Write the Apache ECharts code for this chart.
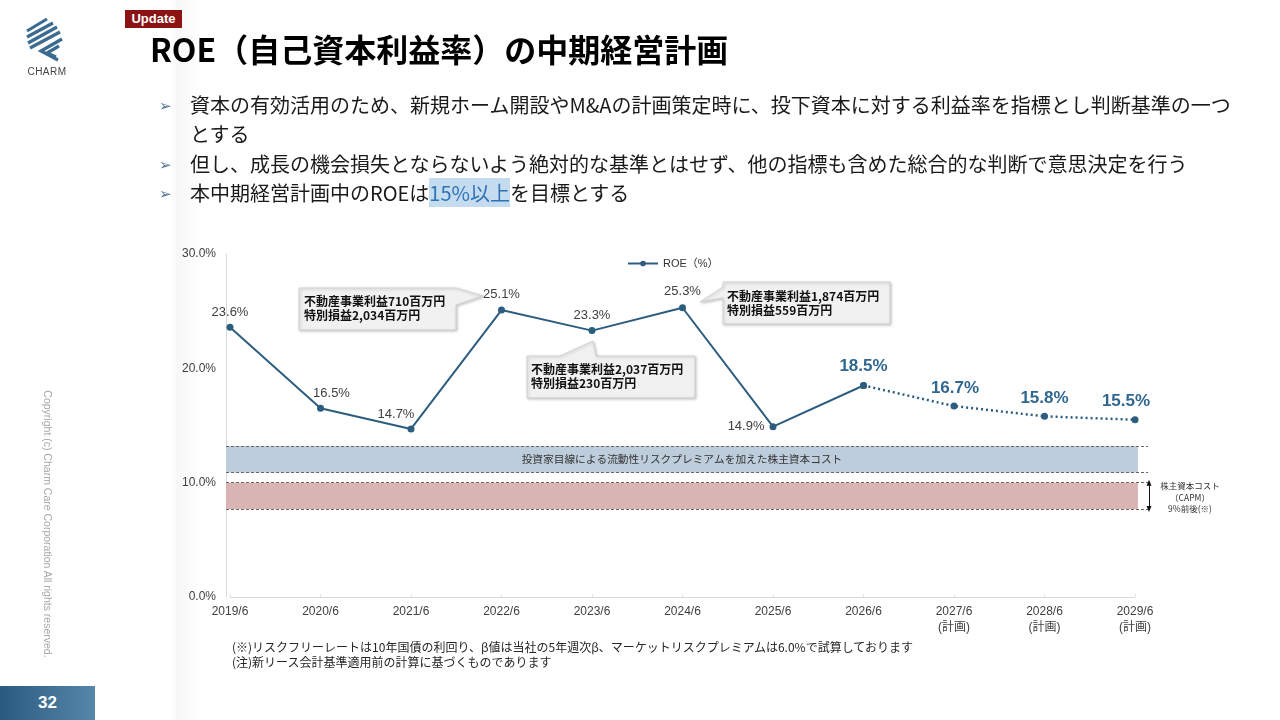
<!DOCTYPE html>
<html>
<head>
<meta charset="utf-8"/>
<title>ROE（自己資本利益率）の中期経営計画</title>
<script src="https://cdn.jsdelivr.net/npm/echarts@6/dist/echarts.min.js"></script>
<style>
    html, body { margin: 0; padding: 0; background: #fff; }
    body { width: 1280px; height: 720px; position: relative; overflow: hidden; font-family: "Noto Sans CJK JP", sans-serif; }
    #main { position: absolute; left: 0; top: 0; width: 1280px; height: 720px; }
    .shade { position: absolute; left: 170px; top: 0; width: 30px; height: 720px;
        background: linear-gradient(to right, rgba(0,0,0,0) 0%, rgba(0,0,0,0.03) 25%, rgba(0,0,0,0) 100%); }
    .badge { position: absolute; left: 125px; top: 10px; width: 57px; height: 18px; background: #8c1313;
        color: #fff; font: bold 13px "Liberation Sans", Arial, sans-serif; line-height: 18px; text-align: center; }
    .title { position: absolute; left: 150px; top: 29px; font-size: 32px; font-weight: bold; line-height: 38px; color: #000; white-space: nowrap; }
    .bl { position: absolute; left: 190px; font-size: 20px; line-height: 24px; color: #1a1a1a; white-space: nowrap; }
    .arw { position: absolute; left: 159px; font-size: 15px; line-height: 24px; color: #4f7396; font-family: "DejaVu Sans", sans-serif; }
    .hl { background: #c5dbef; color: #2e74b5; }
    .note { position: absolute; left: 232px; top: 639px; font-size: 12px; line-height: 15px; color: #262626; white-space: nowrap; }
    .copy { position: absolute; left: -92px; top: 517px; width: 280px; text-align: center; transform: rotate(90deg);
        font: 10.5px "Liberation Sans", Arial, sans-serif; color: #a6a6a6; white-space: nowrap; line-height: 14px; }
    .page { position: absolute; left: 0; top: 686px; width: 95px; height: 34px;
        background: linear-gradient(to right, #2a5a7f, #5686a9); color: #fff;
        font: bold 17px "Liberation Sans", Arial, sans-serif; line-height: 34px; text-align: center; }
    .capm { position: absolute; left: 1150px; top: 480px; width: 80px; text-align: center; font-size: 8.5px; line-height: 11.5px; color: #333; }
    .charm { position: absolute; left: 22px; top: 66px; width: 50px; text-align: center; font: 10px "Liberation Sans", Arial, sans-serif; color: #444; letter-spacing: 0.5px; }
</style>
</head>
<body>

<div class="shade"></div>
<div id="main"></div>

<!-- ヘッダー -->
<div class="charm">CHARM</div>
<div class="badge">Update</div>
<div class="title">ROE（自己資本利益率）の中期経営計画</div>

<!-- 箇条書き -->
<div class="arw" style="top:94px;">➢</div>
<div class="bl" style="top:93px;">資本の有効活用のため、新規ホーム開設やM&amp;Aの計画策定時に、投下資本に対する利益率を指標とし判断基準の一つ</div>
<div class="bl" style="top:122px;">とする</div>
<div class="arw" style="top:153px;">➢</div>
<div class="bl" style="top:152px;">但し、成長の機会損失とならないよう絶対的な基準とはせず、他の指標も含めた総合的な判断で意思決定を行う</div>
<div class="arw" style="top:182px;">➢</div>
<div class="bl" style="top:181px;">本中期経営計画中のROEは<span class="hl">15%以上</span>を目標とする</div>

<div class="capm">株主資本コスト<br>（CAPM）<br>9%前後(※)</div>

<div class="note">(※)リスクフリーレートは10年国債の利回り、β値は当社の5年週次β、マーケットリスクプレミアムは6.0%で試算しております<br>(注)新リース会計基準適用前の計算に基づくものであります</div>

<div class="copy">Copyright (c) Charm Care Corporation All rights reserved.</div>
<div class="page">32</div>

<script>
    // データ
    var categories = ['2019/6', '2020/6', '2021/6', '2022/6', '2023/6', '2024/6', '2025/6', '2026/6',
        '2027/6\n(計画)', '2028/6\n(計画)', '2029/6\n(計画)'];
    var roeActual = [23.6, 16.5, 14.7, 25.1, 23.3, 25.3, 14.9, 18.5, null, null, null];
    var roePlan = [null, null, null, null, null, null, null, 18.5, 16.7, 15.8, 15.5];
    var capmBand = [7.7, 10.0];        // 株主資本コスト(CAPM)
    var premiumBand = [10.9, 13.2];    // 流動性リスクプレミアム込み

    var lineColor = '#2c5d7f';
    var numFont = "'Liberation Sans', Arial, 'Noto Sans CJK JP', sans-serif";

    // ラベル位置の微調整
    var actualLabel = [
        {position: 'top'},
        {position: 'top', offset: [11, 0]},
        {position: 'top', offset: [-15, 0]},
        {position: 'top', offset: [0, -1]},
        {position: 'top'},
        {position: 'top', offset: [0, -1]},
        {position: 'left', offset: [0, 0]},
        {show: false}
    ];
    var planLabel = [null, null, null, null, null, null, null,
        {offset: [0, -1]}, {offset: [1, 0]}, {offset: [0, 0]}, {offset: [-9, 0]}];

    var actualData = roeActual.map(function (v, i) {
        if (v === null) return null;
        return {value: v, label: actualLabel[i]};
    });
    var planData = roePlan.map(function (v, i) {
        if (v === null) return null;
        return {value: v, label: planLabel[i]};
    });

    // 吹き出し
    function callout(points, text, tx, ty) {
        return [{
            type: 'polygon', z: 20,
            shape: {points: points},
            style: {fill: '#f1f1f1', stroke: '#d2d2d2', lineWidth: 1,
                shadowBlur: 3, shadowColor: 'rgba(0,0,0,0.22)', shadowOffsetX: 1, shadowOffsetY: 1}
        }, {
            type: 'text', z: 21, x: tx, y: ty,
            style: {text: text, font: "bold 12px 'Noto Sans CJK JP'", fill: '#111', lineHeight: 13.5}
        }];
    }

    var logoColor = '#3b6b90';
    var logo = [
        [[27, 31], [47, 19]],
        [[27, 37], [53, 23]],
        [[28, 43], [57, 27]],
        [[30, 48], [60, 32]],
        [[62, 39], [41, 51], [58, 60]],
        [[59, 46], [47, 53], [56, 57]]
    ].map(function (pts) {
        return {type: 'polyline', z: 5, shape: {points: pts},
            style: {stroke: logoColor, lineWidth: 3.2, fill: null, lineJoin: 'miter'}};
    });

    var graphics = logo
        .concat(callout([[299, 288], [456, 288], [483, 296], [456, 305], [456, 330], [299, 330]],
            '不動産事業利益710百万円\n特別損益2,034百万円', 304, 295))
        .concat(callout([[527, 356], [560, 356], [593, 341], [596, 356], [695, 356], [695, 398], [527, 398]],
            '不動産事業利益2,037百万円\n特別損益230百万円', 531, 363))
        .concat(callout([[723, 282], [890, 282], [890, 324], [723, 324], [723, 298], [700, 302], [723, 287]],
            '不動産事業利益1,874百万円\n特別損益559百万円', 727, 290));

    var myChart = echarts.init(document.getElementById('main'));
    var option = {
        animation: false,
        backgroundColor: 'transparent',
        legend: {
            data: ['ROE（%）'],
            top: 253, left: 622,
            itemWidth: 30, itemHeight: 7,
            textStyle: {fontSize: 11, color: '#333', fontFamily: numFont}
        },
        grid: [
            {left: 230, right: 145, top: 254, bottom: 123},
            {left: 226, right: 131, top: 254, bottom: 123}
        ],
        xAxis: [{
            type: 'category',
            gridIndex: 0,
            data: categories,
            boundaryGap: false,
            axisLine: {lineStyle: {color: '#d9d9d9'}},
            axisTick: {show: true, inside: true, length: 3, lineStyle: {color: '#e3e3e3'}},
            axisLabel: {fontSize: 12, color: '#404040', fontFamily: numFont, margin: 7, lineHeight: 16, interval: 0}
        }, {
            type: 'value', gridIndex: 1, min: 0, max: 100, show: false
        }],
        yAxis: [{
            type: 'value',
            gridIndex: 0,
            min: 0, max: 30, interval: 10,
            offset: 4,
            axisLine: {show: true, lineStyle: {color: '#d9d9d9'}},
            axisTick: {show: false},
            splitLine: {show: false},
            axisLabel: {fontSize: 12, color: '#404040', fontFamily: numFont, margin: 10,
                formatter: function (v) { return v.toFixed(1) + '%'; }}
        }, {
            type: 'value', gridIndex: 1, min: 0, max: 30, show: false
        }],
        series: [
            {
                name: 'ROE（%）',
                type: 'line',
                data: actualData,
                z: 5,
                color: lineColor,
                lineStyle: {color: lineColor, width: 2},
                symbol: 'circle', symbolSize: 7,
                itemStyle: {color: lineColor},
                label: {show: true, fontSize: 13, color: '#404040', fontFamily: numFont, distance: 5,
                    formatter: function (p) { return p.value.toFixed(1) + '%'; }}
            },
            {
                name: '計画',
                type: 'line',
                data: planData,
                z: 5,
                lineStyle: {color: lineColor, width: 2.5, type: [2, 3]},
                symbol: 'circle', symbolSize: 7,
                itemStyle: {color: lineColor},
                label: {show: true, position: 'top', fontSize: 17, fontWeight: 'bold', color: '#2f6790',
                    fontFamily: numFont, distance: 6,
                    formatter: function (p) { return p.value.toFixed(1) + '%'; }}
            },
            {
                name: '資本コスト',
                type: 'line',
                xAxisIndex: 1, yAxisIndex: 1,
                data: [],
                z: 1,
                markArea: {
                    silent: true,
                    data: [
                        [{coord: [0, premiumBand[1]], itemStyle: {color: '#bdcddb'},
                            label: {show: true, position: 'inside', color: '#333', fontSize: 10.7,
                                fontFamily: 'Noto Sans CJK JP'},
                            name: '投資家目線による流動性リスクプレミアムを加えた株主資本コスト'},
                            {coord: [98.8, premiumBand[0]]}],
                        [{coord: [0, capmBand[1]], itemStyle: {color: '#d8b4b4'}, label: {show: false}},
                            {coord: [98.8, capmBand[0]]}]
                    ]
                },
                markLine: {
                    silent: true,
                    symbol: ['none', 'none'],
                    label: {show: false},
                    lineStyle: {color: '#666', width: 1, type: [3, 2]},
                    data: [
                        [{coord: [0, premiumBand[1]]}, {coord: [99.9, premiumBand[1]]}],
                        [{coord: [0, premiumBand[0]]}, {coord: [99.9, premiumBand[0]]}],
                        [{coord: [0, capmBand[1]]}, {coord: [99.9, capmBand[1]]}],
                        [{coord: [0, capmBand[0]]}, {coord: [99.9, capmBand[0]]}],
                        [{coord: [100, capmBand[1]], symbol: 'triangle', symbolSize: [5, 6],
                            lineStyle: {color: '#111', type: 'solid', width: 1}},
                            {coord: [100, capmBand[0]], symbol: 'triangle', symbolSize: [5, 6]}]
                    ]
                }
            }
        ],
        graphic: graphics
    };
    myChart.setOption(option);
</script>
</body>
</html>
